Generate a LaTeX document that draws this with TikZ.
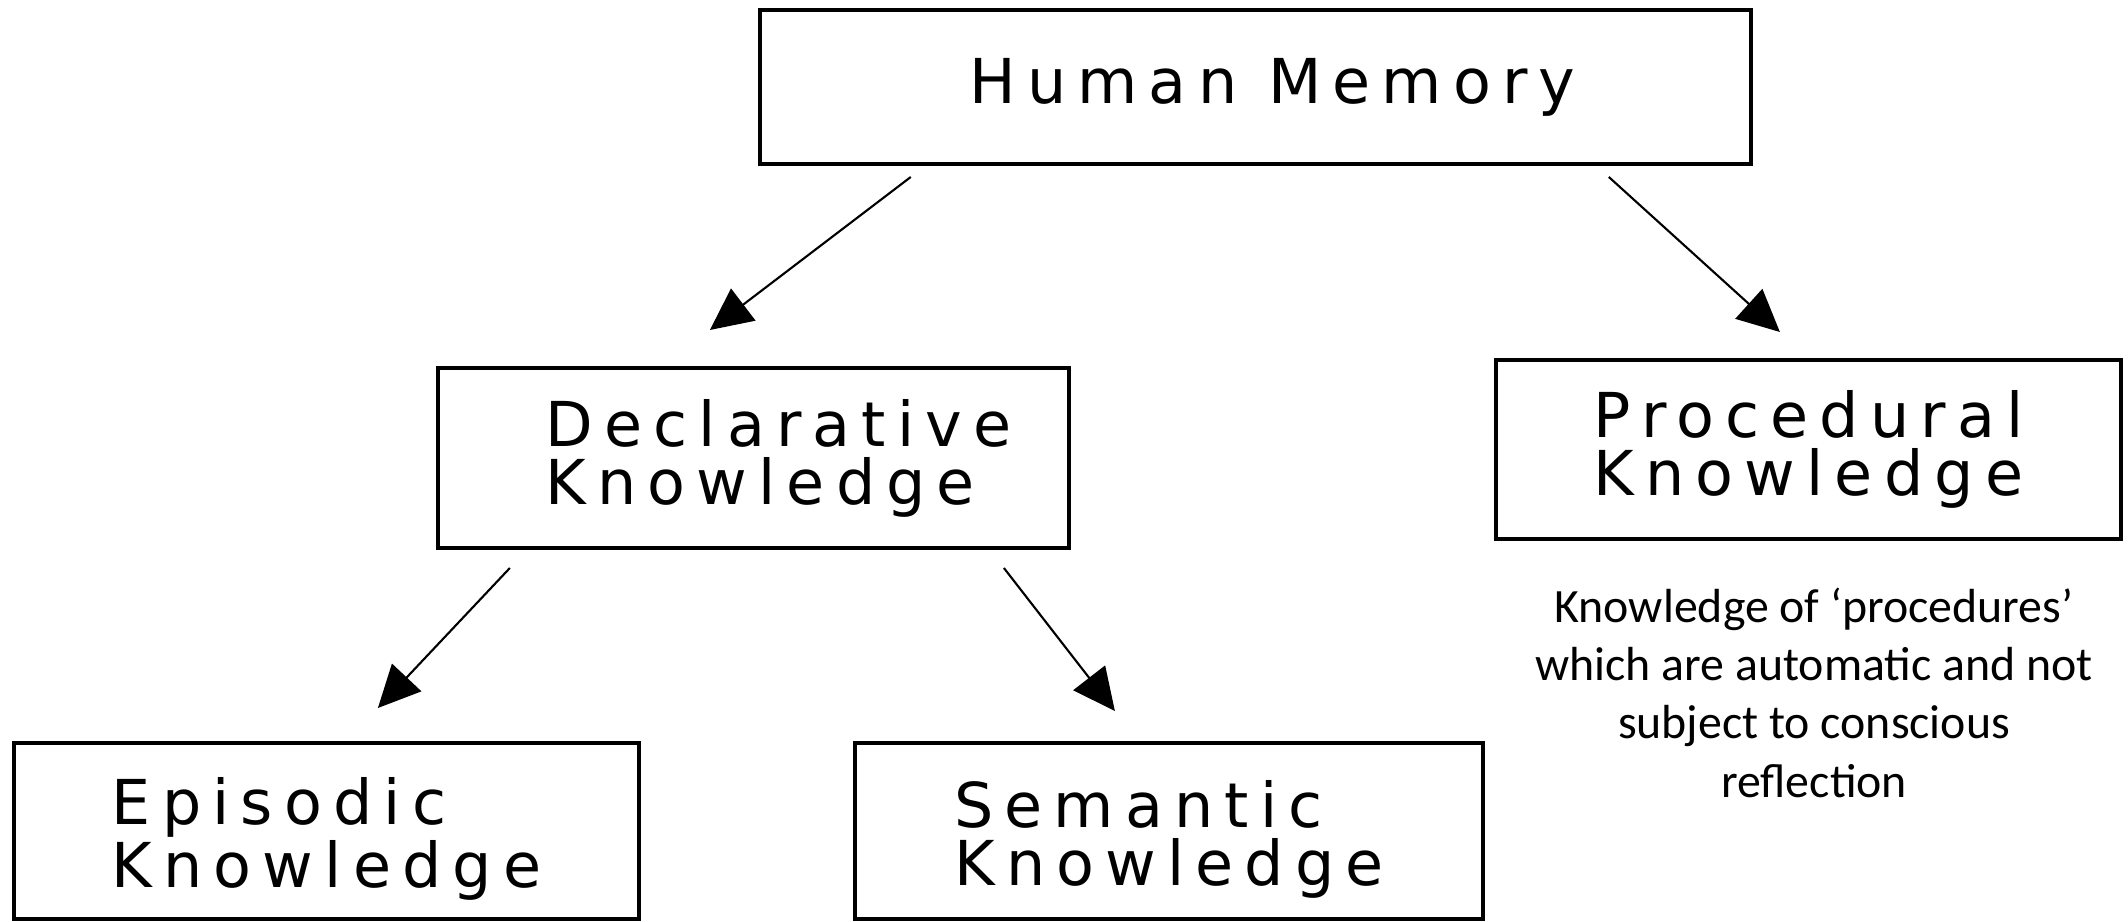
\documentclass[tikz,border=0pt]{standalone}
\usepackage{fontspec}
\setmainfont{Carlito}
\newfontfamily\boxfont[LetterSpace=18]{DejaVu Sans}
\usetikzlibrary{arrows.meta,calc}
\begin{document}
\begin{tikzpicture}[x=0.01cm,y=-0.01cm,
  box/.style={draw, line width=1.1pt, rectangle, inner sep=0pt, align=left,
    font=\boxfont\fontsize{17.6}{16.5}\selectfont},
  conn/.style={line width=0.6pt, -{Triangle[length=0.42cm,width=0.4cm]}},
  note/.style={align=center, inner sep=0pt, font=\fontsize{13.6}{16.5}\selectfont}]
\useasboundingbox (0,0) rectangle (2128,922);
\node[box, minimum width=9.91cm, minimum height=1.54cm] (hm) at (1255.5,87) {\hspace*{0.34cm}Human Memory};
\node[box, minimum width=6.31cm, minimum height=1.80cm] (decl) at (753.5,458) {\hspace*{0.5cm}Declarative\\\hspace*{0.5cm}Knowledge};
\node[box, minimum width=6.25cm, minimum height=1.79cm] (proc) at (1808.5,449.5) {Procedural\\Knowledge};
\node[box, minimum width=6.25cm, minimum height=1.76cm] (epi) at (326.5,831) {\rule{0pt}{18pt}Episodic\\Knowledge};
\node[box, minimum width=6.28cm, minimum height=1.76cm] (sem) at (1169,831) {\rule{0pt}{18pt}Semantic\\Knowledge};
\node[note, anchor=base] (txt) at (1814,797) {Knowledge of ‘procedures’\\which are automatic and not\\subject to conscious\\reflection};
\coordinate (s1) at ($(hm.south west)+(153,11)$);
\coordinate (e1) at ($(decl.north west)+(274,-36)$);
\coordinate (s2) at ($(hm.south west)+(851,11)$);
\coordinate (e2) at ($(proc.north west)+(286,-26)$);
\coordinate (s3) at ($(decl.south west)+(74,18)$);
\coordinate (e3) at ($(epi.north west)+(366,-33)$);
\coordinate (s4) at ($(decl.south west)+(568,18)$);
\coordinate (e4) at ($(sem.north west)+(262,-30)$);
\draw[conn] (s1) -- (e1);
\draw[conn] (s2) -- (e2);
\draw[conn] (s3) -- (e3);
\draw[conn] (s4) -- (e4);
\end{tikzpicture}
\end{document}
